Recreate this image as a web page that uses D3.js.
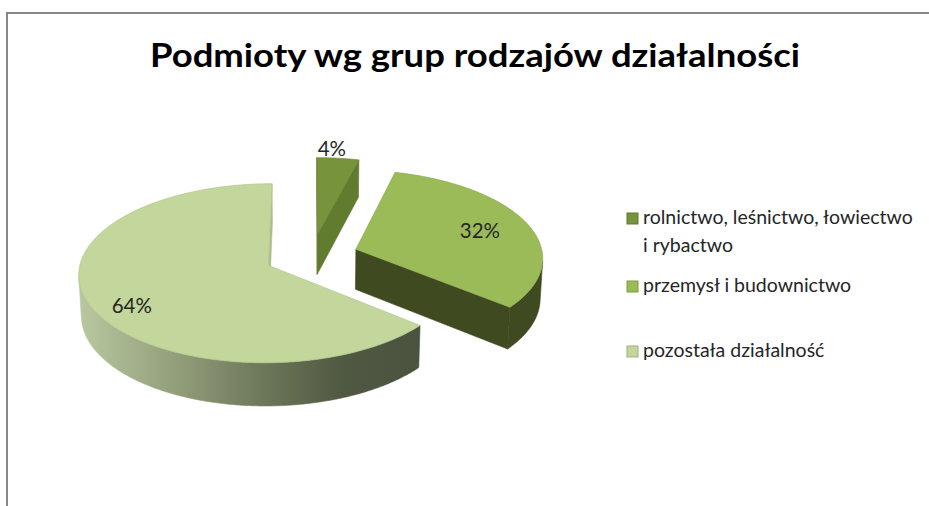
<!DOCTYPE html>
<html>
<head>
<meta charset="utf-8">
<script src="https://cdn.jsdelivr.net/npm/d3@7"></script>
<style>
  body { margin: 0; background: #fff; }
  svg { display: block; }
  text { font-family: Lato, "Open Sans", sans-serif; }
</style>
</head>
<body>
<svg id="chart" width="929" height="506"></svg>
<script>
// --- data ---
const categories = ['rolnictwo, leśnictwo, łowiectwo i rybactwo', 'przemysł i budownictwo', 'pozostała działalność'];
const legendLines = [['rolnictwo, leśnictwo, łowiectwo', 'i rybactwo'], ['przemysł i budownictwo'], ['pozostała działalność']];
const shares = [4, 32, 64];
const pctLabels = ['4%', '32%', '64%'];
const title = 'Podmioty wg grup rodzajów działalności';

// --- styling ---
const topColors = ['#77933c', '#9bbb59', '#c3d69b'];
const cutColors = ['#617b2f', '#3f4a21', '#aebd8c'];
const sideColors = ['#5b722c', '#3f4a21', 'url(#sideGrad)'];
const legendBorder = ['#5f7a2e', '#7d9b40', '#9fb276'];

// 3D view of the pie (Excel-like tilt + perspective)
const view = { cx: 311.5, cy: 256, R: 187, H: 46, phi: 27.8 * Math.PI / 180, D: 1908, explode: 47 };
const labelPlace = [{ r: 1.15, dx: -9, dy: 0 }, { r: 0.72, dx: 0, dy: 0 }, { r: 0.82, dx: 9, dy: 8 }];

const svg = d3.select('#chart');

// frame
svg.append('rect')
    .attr('x', 7).attr('y', 13).attr('width', 960).attr('height', 540)
    .attr('fill', 'none').attr('stroke', '#878787').attr('stroke-width', 2);

// title
svg.append('text')
    .attr('x', 475).attr('y', 67)
    .attr('text-anchor', 'middle')
    .attr('font-size', 33).attr('font-weight', 700)
    .attr('fill', '#000')
    .attr('textLength', 650).attr('lengthAdjust', 'spacingAndGlyphs')
    .text(title);

const defs = svg.append('defs');
const grad = defs.append('linearGradient')
    .attr('id', 'sideGrad').attr('gradientUnits', 'userSpaceOnUse')
    .attr('x1', 77).attr('x2', 420).attr('y1', 0).attr('y2', 0);
[[0, '#b9c9a1'], [0.3, '#919c79'], [0.55, '#6c7659'], [0.78, '#4f5841'], [1, '#4b533f']]
    .forEach(([o, c]) => grad.append('stop').attr('offset', o).attr('stop-color', c));

function project(X, Y, Z) {
    const c = Math.cos(view.phi), s = Math.sin(view.phi);
    const yc = Y * c - Z * s;
    const zc = Y * s + Z * c;
    const k = view.D / (view.D - zc);
    return [view.cx + X * k, view.cy - yc * k, zc];
}

const pie = d3.pie().sort(null).value(d => d);
const arcs = pie(shares);
const line = d3.line().curve(d3.curveLinearClosed);

function area(pts) {
    let a = 0;
    for (let i = 0; i < pts.length; i++) {
        const p = pts[i], q = pts[(i + 1) % pts.length];
        a += p[0] * q[1] - q[0] * p[1];
    }
    return a;
}

const slices = arcs.map((d, i) => {
    const mid = (d.startAngle + d.endAngle) / 2;
    const ox = view.explode * Math.sin(mid), oz = -view.explode * Math.cos(mid);
    const pt = (a, r, Y) => project(ox + r * Math.sin(a), Y, oz - r * Math.cos(a));
    return { d, i, mid, ox, oz, pt, depth: project(ox, 0, oz)[2] };
});

// back slices first
slices.sort((a, b) => a.depth - b.depth);

const g = svg.append('g');
slices.forEach(sl => {
    const { d, i, pt } = sl;
    const R = view.R, H = view.H;
    const n = Math.max(4, Math.ceil((d.endAngle - d.startAngle) / 0.01));
    const angles = d3.range(n + 1).map(k => d.startAngle + (d.endAngle - d.startAngle) * k / n);
    const faces = [];

    // cut faces
    const cutS = [pt(0, 0, 0), pt(0, 0, -H), pt(d.startAngle, R, -H), pt(d.startAngle, R, 0)];
    const cutE = [pt(0, 0, 0), pt(d.endAngle, R, 0), pt(d.endAngle, R, -H), pt(0, 0, -H)];
    [cutS, cutE].forEach(f => {
        if (area(f) > 0) faces.push({ pts: f, fill: cutColors[i] });
    });

    // outer side, grouped into visible runs
    let run = null;
    for (let k = 0; k < n; k++) {
        const a1 = angles[k], a2 = angles[k + 1];
        const q = [pt(a1, R, 0), pt(a1, R, -H), pt(a2, R, -H), pt(a2, R, 0)];
        if (area(q) > 0) {
            if (!run) { run = { top: [q[0]], bot: [q[1]] }; }
            run.top.push(q[3]); run.bot.push(q[2]);
        } else if (run) {
            faces.push({ pts: run.top.concat(run.bot.reverse()), fill: sideColors[i] });
            run = null;
        }
    }
    if (run) faces.push({ pts: run.top.concat(run.bot.reverse()), fill: sideColors[i] });

    faces.forEach(f => {
        g.append('path')
            .attr('d', line(f.pts.map(p => [p[0], p[1]])))
            .attr('fill', f.fill)
            .attr('stroke', f.fill).attr('stroke-width', 0.6)
            .attr('stroke-linejoin', 'round');
    });

    // top face
    const topPts = [pt(0, 0, 0)].concat(angles.map(a => pt(a, R, 0)));
    g.append('path')
        .attr('d', line(topPts.map(p => [p[0], p[1]])))
        .attr('fill', topColors[i])
        .attr('stroke', d3.color(topColors[i]).darker(0.25)).attr('stroke-width', 0.7)
        .attr('stroke-linejoin', 'round');
});

// percentage labels
slices.forEach(sl => {
    const lp = labelPlace[sl.i];
    const p = sl.pt(sl.mid, view.R * lp.r, 0);
    svg.append('text')
        .attr('x', p[0] + lp.dx).attr('y', p[1] + lp.dy)
        .attr('text-anchor', 'middle').attr('dominant-baseline', 'central')
        .attr('font-size', 20.5).attr('fill', '#262626')
        .text(pctLabels[sl.i]);
});

// legend
const legendY = [224, 292, 357];
const legend = svg.append('g');
categories.forEach((c, i) => {
    const item = legend.append('g').attr('transform', `translate(627,${legendY[i]})`);
    item.append('rect')
        .attr('x', 0).attr('y', -11).attr('width', 11).attr('height', 11)
        .attr('fill', topColors[i]).attr('stroke', legendBorder[i]).attr('stroke-width', 1);
    const t = item.append('text').attr('x', 16).attr('font-size', 19.5).attr('fill', '#262626');
    legendLines[i].forEach((ln, j) => {
        t.append('tspan').attr('x', 16).attr('dy', j ? 27.5 : 0).text(ln);
    });
});
</script>
</body>
</html>
